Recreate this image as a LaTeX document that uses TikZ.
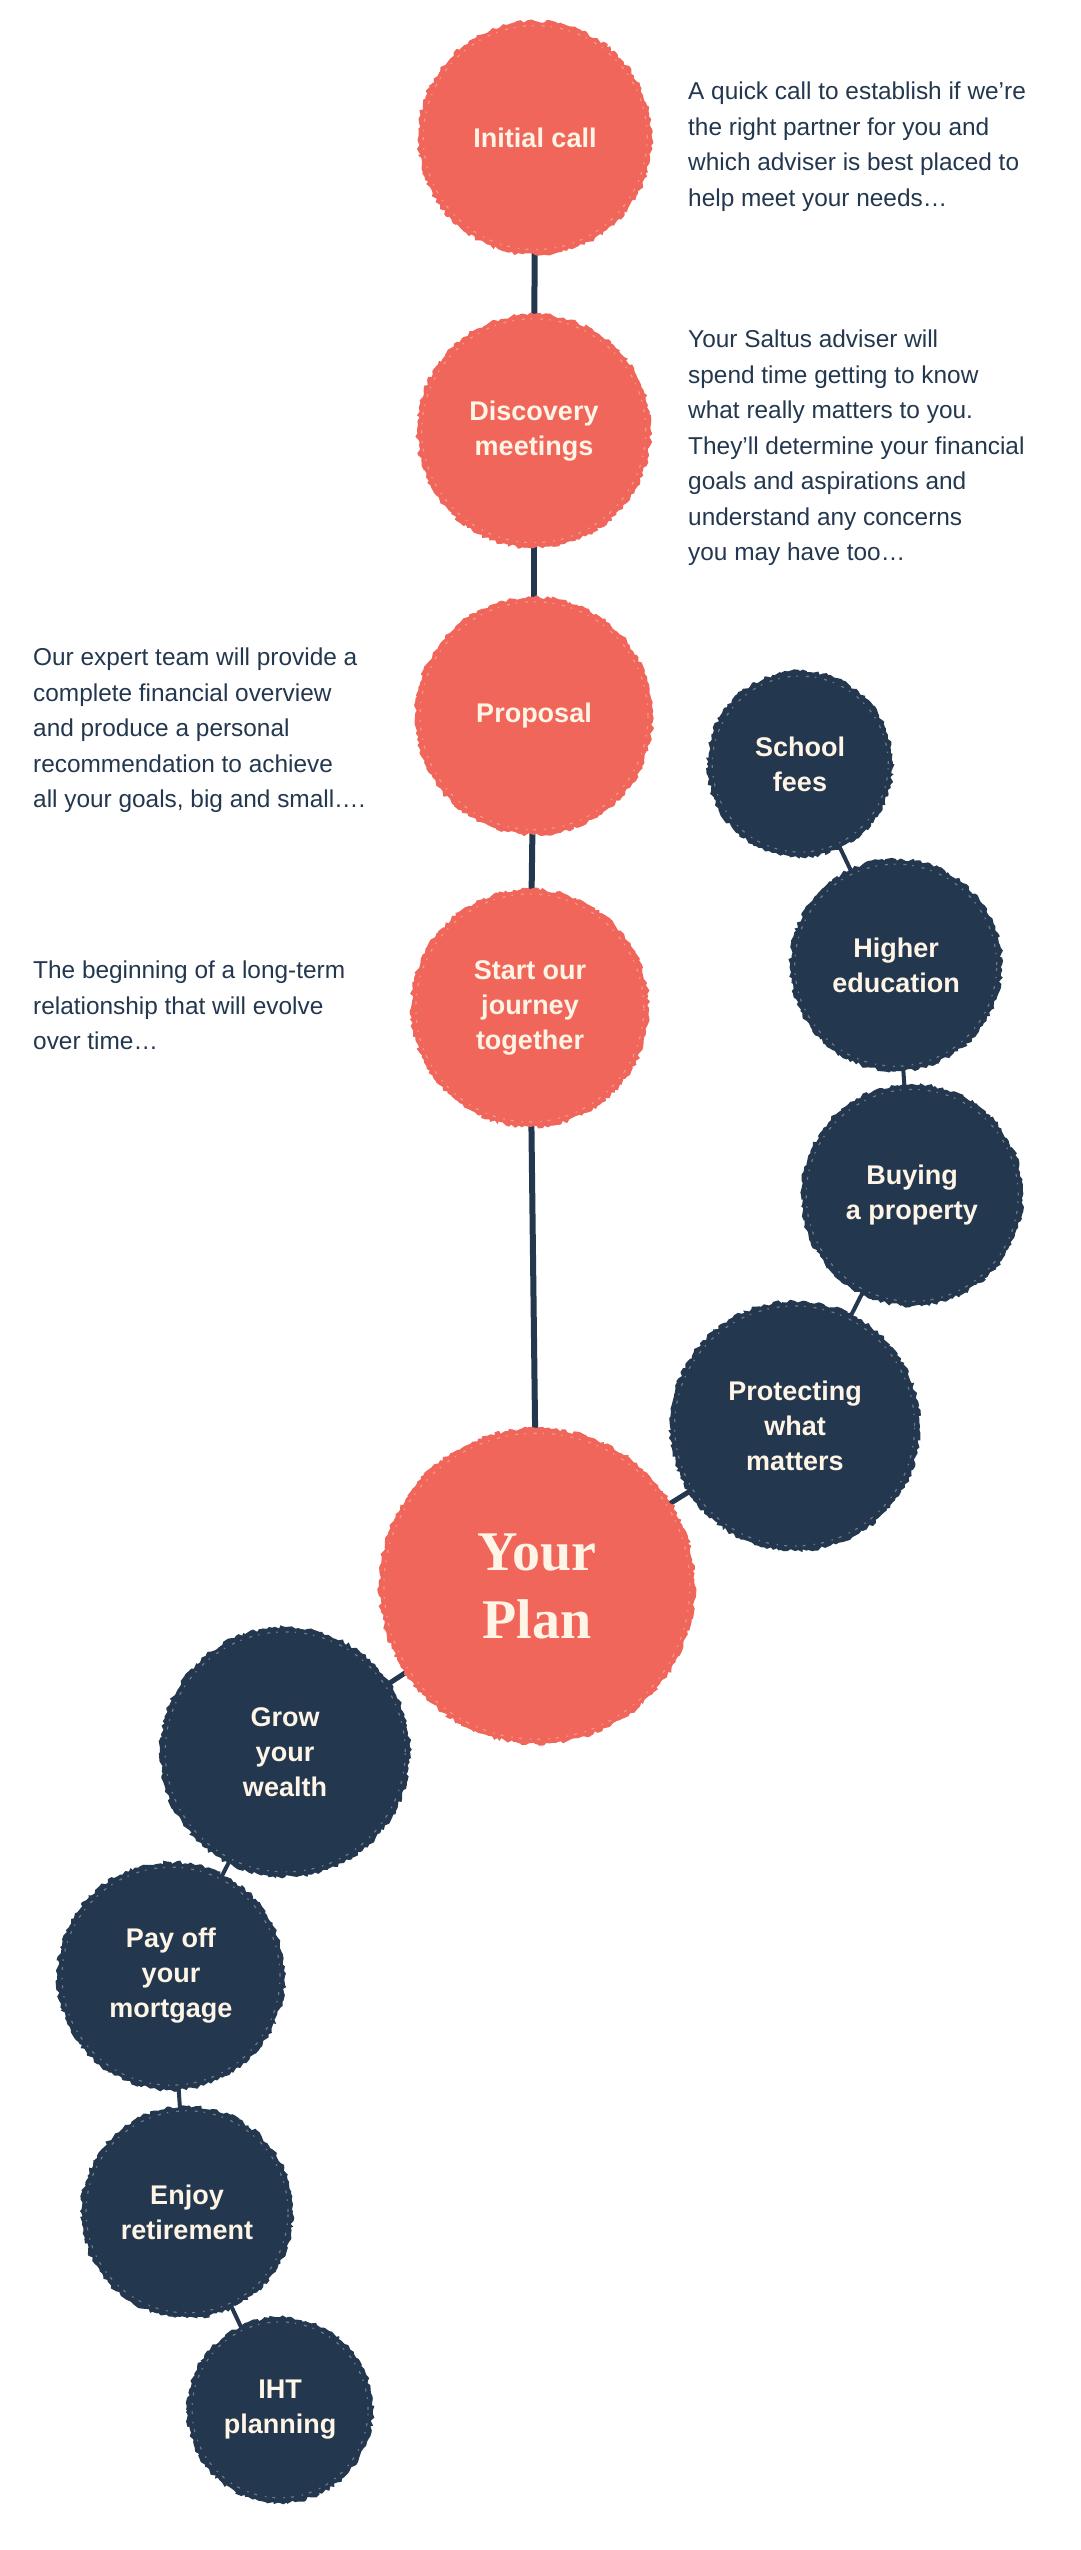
\documentclass[tikz,border=0pt]{standalone}
\usepackage{fontspec}
\setmainfont{Liberation Sans}
\newfontfamily\planfont{Liberation Serif}
\usetikzlibrary{decorations.pathmorphing,backgrounds}
\definecolor{coral}{HTML}{F1665A}
\definecolor{navy}{HTML}{23374F}
\definecolor{cream}{HTML}{FFF5E6}
\pgfmathsetseed{7}
\begin{document}
\begin{tikzpicture}[x=1pt,y=-1pt,
  disc/.style={circle, inner sep=0pt, minimum size=#1, align=center, text=cream,
    decorate, decoration={random steps, segment length=3pt, amplitude=1.8pt},
    font=\bfseries\fontsize{27}{35}\selectfont,
    path picture={\draw[cream, opacity=0.35, line width=1.2pt,
      dash pattern=on 3pt off 8pt on 1.5pt off 6pt]
      (path picture bounding box.center) circle ({#1/2-5pt});}},
  cdisc/.style={disc=#1, fill=coral},
  ndisc/.style={disc=#1, fill=navy},
  desc/.style={anchor=north west, inner sep=0pt, align=left, text=navy,
    font=\fontsize{24.4}{35.5}\selectfont},
  chainline/.style={draw=navy, line width=6pt},
  linkline/.style={draw=navy, line width=4pt},
]
\useasboundingbox (0,0) rectangle (1080,2550);

\node[cdisc=234pt] (init) at (535,138) {Initial call};
\node[cdisc=234pt] (disc) at (534,431) {Discovery\\meetings};
\node[cdisc=238pt] (prop) at (534,716) {Proposal};
\node[cdisc=238pt] (start) at (530,1008) {Start our\\journey\\together};
\node[cdisc=316pt, font=\planfont\bfseries\fontsize{56}{68}\selectfont] (plan) at (537,1586) {Your\\Plan};

\node[ndisc=186pt] (school) at (800,764) {School\\fees};
\node[ndisc=212pt] (higher) at (896,965) {Higher\\education};
\node[ndisc=222pt] (buy) at (912,1195) {Buying\\a property};
\node[ndisc=250pt] (protect) at (795,1426) {Protecting\\what\\matters};
\node[ndisc=250pt] (grow) at (285,1752) {Grow\\your\\wealth};
\node[ndisc=228pt] (pay) at (171,1976) {Pay off\\your\\mortgage};
\node[ndisc=212pt] (enjoy) at (187,2212) {Enjoy\\retirement};
\node[ndisc=186pt] (iht) at (280,2410) {IHT\\planning};

\node[desc] (t1) at (688,82) {A quick call to establish if we’re\\the right partner for you and\\which adviser is best placed to\\help meet your needs…};
\node[desc] (t2) at (688,330) {Your Saltus adviser will\\spend time getting to know\\what really matters to you.\\They’ll determine your financial\\goals and aspirations and\\understand any concerns\\you may have too…};
\node[desc] (t3) at (33,648) {Our expert team will provide a\\complete financial overview\\and produce a personal\\recommendation to achieve\\all your goals, big and small….};
\node[desc] (t4) at (33,961) {The beginning of a long-term\\relationship that will evolve\\over time…};

\begin{pgfonlayer}{background}
\fill[white] (0,0) rectangle (1080,2550);
\draw[chainline] (init.center) -- (disc.center);
\draw[chainline] (disc.center) -- (prop.center);
\draw[chainline] (prop.center) -- (start.center);
\draw[chainline] (start.center) -- (plan.center);
\draw[linkline, line width=5pt] (plan.center) -- (protect.center);
\draw[linkline, line width=5pt] (plan.center) -- (grow.center);
\draw[linkline] (protect.center) -- (buy.center);
\draw[linkline] (buy.center) -- (higher.center);
\draw[linkline] (higher.center) -- (school.center);
\draw[linkline] (grow.center) -- (pay.center);
\draw[linkline] (pay.center) -- (enjoy.center);
\draw[linkline] (enjoy.center) -- (iht.center);
\end{pgfonlayer}
\end{tikzpicture}
\end{document}
